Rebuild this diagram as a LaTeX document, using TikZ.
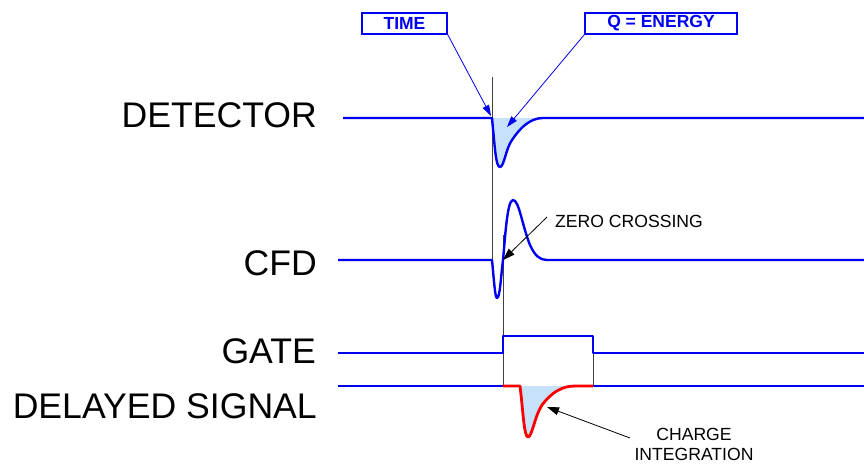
\documentclass[tikz,border=0pt]{standalone}
\usepackage{fontspec}
\setmainfont{Liberation Sans}
\usetikzlibrary{arrows.meta}
\definecolor{sigblue}{RGB}{0,0,240}
\definecolor{fillblue}{RGB}{200,225,250}
\definecolor{sigred}{RGB}{250,0,0}
\tikzset{
  biglabel/.style={inner sep=0pt,anchor=base east,font=\fontsize{35.6}{40}\selectfont},
  smalllabel/.style={inner sep=0pt,font=\fontsize{17.6}{20}\selectfont,align=center},
  tagbox/.style={draw=sigblue,line width=1.6pt,inner sep=0pt,text=sigblue,font=\fontsize{17.5}{18}\selectfont\bfseries},
  sig/.style={draw=sigblue,line width=2.4pt,line join=round},
  redsig/.style={draw=sigred,line width=2.8pt,line join=round},
  marker/.style={draw=black!75,line width=0.8pt},
  bluearrow/.style={draw=sigblue,line width=0.8pt,-{Triangle[length=11pt,width=7pt]}},
  blackarrow/.style={draw=black,line width=0.8pt,-{Triangle[length=12pt,width=8pt]}}
}
\begin{document}
\begin{tikzpicture}[x=1pt,y=-1pt]
\useasboundingbox (0,0) rectangle (864,464);

% labels
\node[biglabel] (ldet) at (317,127) {DETECTOR};
\node[biglabel] (lcfd) at (317,275) {CFD};
\node[biglabel] (lgate) at (316,363) {GATE};
\node[biglabel] (ldel) at (317,418) {DELAYED SIGNAL};

% tag boxes
\node[tagbox,minimum width=85pt,minimum height=21pt] (time) at (404.5,23.5) {TIME};
\node[tagbox,minimum width=152pt,minimum height=21pt] (qen) at (661,23.5) {Q = ENERGY};

% marker lines
\coordinate (m1a) at (492,77);
\coordinate (m1b) at (492,260);
\coordinate (m2a) at (503,235);
\coordinate (m2b) at (503,386);
\coordinate (m3a) at (593,353);
\coordinate (m3b) at (593,386);
\draw[marker] (m1a) -- (m1b);
\draw[marker] (m2a) -- (m2b);
\draw[marker] (m3a) -- (m3b);

% detector
\fill[fillblue] (492,118) .. controls (495,150) and (496,167) .. (500,167)
  .. controls (504,167) and (506,148) .. (512,140)
  .. controls (520,128) and (530,118) .. (543,118) -- cycle;
\draw[sig] (343,118) -- (492,118) .. controls (495,150) and (496,167) .. (500,167)
  .. controls (504,167) and (506,148) .. (512,140)
  .. controls (520,128) and (530,118) .. (543,118) -- (864,118);

% CFD
\draw[sig] (338,260) -- (492,260) .. controls (494,280) and (495,298) .. (497,298)
  .. controls (500,298) and (501,275) .. (503,260)
  .. controls (505,240) and (507,200) .. (513,200)
  .. controls (519,200) and (522,225) .. (530,245)
  .. controls (535,256) and (540,260) .. (547,260) -- (864,260);

% gate
\draw[sig] (338,353) -- (503,353) -- (503,336) -- (593,336) -- (593,353) -- (864,353);

% delayed signal
\draw[sig] (338,386) -- (503,386);
\draw[sig] (593,386) -- (864,386);
\fill[fillblue] (520,386) .. controls (523,410) and (524,437) .. (528,437)
  .. controls (532,437) and (535,415) .. (542,405)
  .. controls (552,392) and (562,386) .. (575,386) -- cycle;
\draw[redsig] (503,386) -- (520,386) .. controls (523,410) and (524,437) .. (528,437)
  .. controls (532,437) and (535,415) .. (542,405)
  .. controls (552,392) and (562,386) .. (575,386) -- (593,386);

% annotations
\coordinate (ttip) at (491,116);
\coordinate (qtip) at (507,127);
\draw[bluearrow] (time.south east) -- (ttip);
\draw[bluearrow] (qen.south west) -- (qtip);

\node[smalllabel,anchor=base west] (zc) at (555,227) {ZERO CROSSING};
\coordinate (zcs) at (547,217);
\coordinate (zct) at (503,260);
\draw[blackarrow] (zcs) -- (zct);

\node[smalllabel,anchor=north] (ci) at (694,428) {CHARGE\\INTEGRATION};
\coordinate (cis) at (630,438);
\coordinate (cit) at (547,407);
\draw[blackarrow] (cis) -- (cit);
\end{tikzpicture}
\end{document}
